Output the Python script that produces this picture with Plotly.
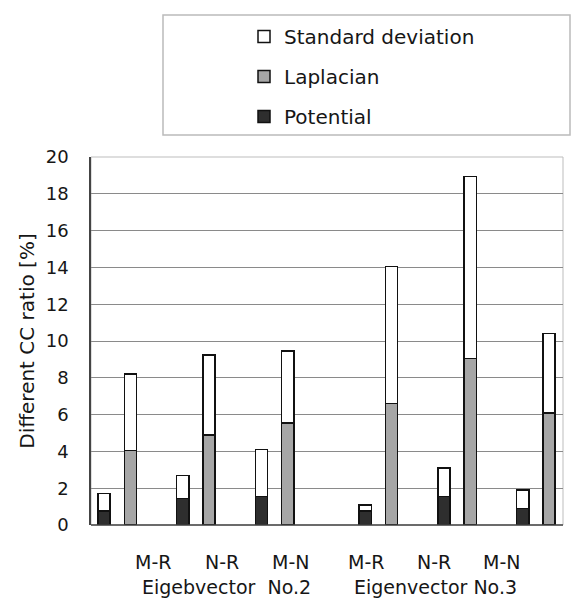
import plotly.graph_objects as go

# ---- data ----
pairs = ["M-R", "N-R", "M-N", "M-R", "N-R", "M-N"]
eigen_groups = ["Eigebvector  No.2", "Eigenvector No.3"]
potential = [0.75, 1.45, 1.55, 0.75, 1.55, 0.9]
potential_sd = [0.95, 1.25, 2.55, 0.35, 1.55, 1.0]
laplacian = [4.05, 4.9, 5.55, 6.6, 9.05, 6.1]
laplacian_sd = [4.15, 4.35, 3.9, 7.45, 9.9, 4.3]

# ---- layout geometry ----
W, H = 571, 598
L, R, T, B = 91, 8, 157, 73
PW, PH = W - L - R, H - T - B

# slot positions on a numeric axis (one unit per pair, extra gap between eigenvector groups)
pot_x = [i + 0.165 + 0.32 * (i // 3) for i in range(len(pairs))]
lap_x = [p + 0.335 for p in pot_x]
bw = 0.155

FONT = "DejaVu Sans"
TXT = "#161616"
fig = go.Figure()
line = dict(color="#111111", width=1.5)
fig.add_bar(x=pot_x, y=potential, width=bw, name="Potential",
            marker=dict(color="#2e2e2e", line=line), legendrank=3, legendgroup="pot")
fig.add_bar(x=lap_x, y=laplacian, width=bw, name="Laplacian",
            marker=dict(color="#a6a6a6", line=line), legendrank=2, legendgroup="lap")
fig.add_bar(x=pot_x, y=potential_sd, width=bw, name="Standard deviation",
            marker=dict(color="#ffffff", line=line), legendrank=1, legendgroup="sd")
fig.add_bar(x=lap_x, y=laplacian_sd, width=bw, name="Standard deviation",
            marker=dict(color="#ffffff", line=line), legendrank=1, legendgroup="sd",
            showlegend=False)

def px2x(p):
    return (p - L) / PW

def py2y(p):
    return (H - B - p) / PH

annotations = []
label_px = [153, 222, 290, 366, 434, 501]
for name, px in zip(pairs, label_px):
    annotations.append(dict(x=px2x(px), y=py2y(562), xref="paper", yref="paper",
                            text=name, showarrow=False, xanchor="center", yanchor="middle",
                            font=dict(size=19, family=FONT, color=TXT)))
for name, px in zip(eigen_groups, [226, 435]):
    annotations.append(dict(x=px2x(px), y=py2y(587), xref="paper", yref="paper",
                            text=name, showarrow=False, xanchor="center", yanchor="middle",
                            font=dict(size=19, family=FONT, color=TXT)))

shapes = [
    # legend box
    dict(type="rect", xref="paper", yref="paper", x0=px2x(163), x1=px2x(570),
         y0=py2y(135), y1=py2y(15), line=dict(color="#bbbbbb", width=1.5),
         fillcolor="rgba(0,0,0,0)", layer="below"),
    # plot area frame (light)
    dict(type="rect", xref="paper", yref="paper", x0=0, x1=1, y0=0, y1=1,
         line=dict(color="#bdbdbd", width=1), layer="below"),
]

fig.update_layout(
    width=W, height=H,
    margin=dict(l=L, r=R, t=T, b=B),
    barmode="stack",
    paper_bgcolor="white", plot_bgcolor="white",
    font=dict(family=FONT, size=19, color=TXT),
    showlegend=True,
    legend=dict(x=px2x(244), y=py2y(17), xref="paper", yref="paper",
                xanchor="left", yanchor="top", traceorder="grouped",
                tracegroupgap=11, bgcolor="rgba(0,0,0,0)",
                font=dict(size=20, family=FONT, color=TXT)),
    xaxis=dict(range=[0, PW / 78.7], showticklabels=False, showgrid=False,
               zeroline=False, showline=False, fixedrange=True),
    yaxis=dict(range=[0, 20], dtick=2, showgrid=True, gridcolor="#8a8a8a", gridwidth=1,
               zeroline=False, showline=True, linecolor="#444", linewidth=1.5,
               ticks="", ticklabelstandoff=17,
               tickfont=dict(size=18, family=FONT, color=TXT),
               title=dict(text="Different CC ratio [%]", standoff=6,
                          font=dict(size=20, family=FONT, color=TXT))),
    annotations=annotations,
    shapes=shapes,
)
# bottom axis line
fig.add_shape(type="line", xref="paper", yref="paper", x0=0, x1=1, y0=0, y1=0,
              line=dict(color="#444", width=1.5))

fig.write_html("out.html")
